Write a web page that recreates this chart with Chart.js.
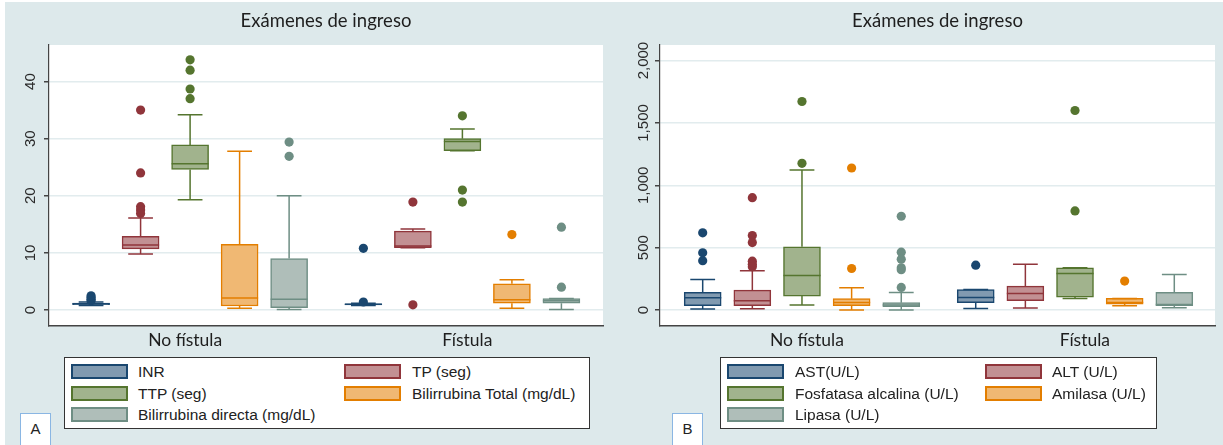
<!DOCTYPE html>
<html>
<head>
<meta charset="utf-8">
<script src="https://cdn.jsdelivr.net/npm/chart.js@4.4.0/dist/chart.umd.min.js"></script>
<style>
  body { margin: 0; width: 1223px; height: 445px; background: #fff; position: relative; overflow: hidden; font-family: "Liberation Sans", Arial, sans-serif; }
  #bg { position: absolute; left: 5px; top: 2px; right: 0; bottom: 0; background: #dde9eb; }
  .panel { position: absolute; top: 0; height: 445px; }
  .title { position: absolute; top: 8px; font: 18.5px Lato, sans-serif; color: #1e1e1e; text-align: center; line-height: 24px; }
  .legend { position: absolute; top: 357px; height: 72px; background: #fff; border: 1.5px solid #333; box-sizing: border-box; }
  .item { position: absolute; font-size: 15.5px; color: #222; line-height: 15px; white-space: nowrap; }
  .sw { position: absolute; width: 57px; height: 15px; box-sizing: border-box; border: 2px solid; }
  .tag { position: absolute; top: 413px; width: 31px; height: 33px; box-sizing: border-box; border: 1.5px solid #8ab6e3; background: #fff; font-size: 15px; text-align: center; line-height: 30px; color: #222; }
</style>
</head>
<body>
<div id="bg"></div>

<div class="panel" style="left:0;width:612px"><canvas id="chartA" width="612" height="445"></canvas></div>
<div class="panel" style="left:612px;width:611px"><canvas id="chartB" width="611" height="445"></canvas></div>

<div class="title" style="left:49px;width:554px">Exámenes de ingreso</div>
<div class="title" style="left:660px;width:555px">Exámenes de ingreso</div>

<div class="legend" id="legA" style="left:64px;width:526px"></div>
<div class="legend" id="legB" style="left:720px;width:437px"></div>

<div class="tag" style="left:20px">A</div>
<div class="tag" style="left:672px">B</div>

<script>
// groups on the x axis
const groups = ['No fístula', 'Fístula'];

// colours (stata s2color)
const lineColors = ['#1a476f', '#90353b', '#55752f', '#e37e00', '#6e8e84'];
const fillColors = ['#819ab0', '#c29093', '#a1b38d', '#f0b873', '#afbeb9'];

// ---- panel A : coagulation / bilirubin ----
const labelsA = ['INR', 'TP (seg)', 'TTP (seg)', 'Bilirrubina Total (mg/dL)', 'Bilirrubina directa (mg/dL)'];
// each row: [No fístula, Fístula]
const lowA  = [[0.8, 0.8], [9.8, 10.9], [19.3, 27.9], [0.3, 0.3], [0.1, 0.1]];
const q1A   = [[0.95, 0.9], [10.7, 10.9], [24.6, 27.9], [0.7, 1.2], [0.4, 1.2]];
const medA  = [[1.1, 1.0], [11.4, 11.2], [25.6, 29.5], [2.1, 1.8], [1.9, 1.6]];
const q3A   = [[1.2, 1.1], [12.9, 13.8], [28.9, 30.0], [11.5, 4.6], [9.0, 2.0]];
const highA = [[1.4, 1.2], [16.1, 14.2], [34.2, 31.7], [27.8, 5.3], [20.0, 2.0]];
const outA  = [
  [[1.6, 1.9, 2.2, 2.5], [1.4, 10.8]],
  [[35, 24, 18.1, 17.5, 16.9], [18.9, 0.9]],
  [[43.8, 42.0, 38.7, 37.0], [34.0, 21.0, 18.9]],
  [[], [13.2]],
  [[29.4, 26.9], [14.5, 4.0]]
];
const yTicksA = [0, 10, 20, 30, 40];

// ---- panel B : enzymes ----
const labelsB = ['AST(U/L)', 'ALT (U/L)', 'Fosfatasa alcalina (U/L)', 'Amilasa (U/L)', 'Lipasa (U/L)'];
const lowB  = [[8, 13], [11, 16], [40, 93], [0, 35], [0, 19]];
const q1B   = [[35, 59], [35, 75], [112, 104], [35, 48], [27, 35]];
const medB  = [[99, 101], [75, 133], [277, 293], [61, 61], [40, 45]];
const q3B   = [[141, 165], [160, 192], [507, 339], [91, 93], [59, 141]];
const highB = [[245, 165], [315, 368], [1123, 339], [179, 93], [141, 285]];
const outB  = [
  [[619, 459, 395], [360]],
  [[901, 597, 541, 392, 368, 347], []],
  [[1672, 1176], [1600, 795]],
  [[1139, 333], [232]],
  [[752, 464, 408, 339, 323, 181], []]
];
const yTicksB = [0, 500, 1000, 1500, 2000];

const HALF = 0.374;  // half box width in x units
const CAP = 0.25;    // half whisker cap width

function boxDatasets(labels, low, q1, med, q3, high, outl) {
  const ds = [];
  labels.forEach(function (lab, i) {
    const boxes = [], lines = [], pts = [];
    groups.forEach(function (g, k) {
      const x = i + 1 + k * 5.5;
      boxes.push({ x: x, y: [q1[i][k], q3[i][k]] });
      lines.push(
        { x: x, y: q3[i][k] }, { x: x, y: high[i][k] }, { x: x, y: null },
        { x: x, y: q1[i][k] }, { x: x, y: low[i][k] }, { x: x, y: null },
        { x: x - CAP, y: high[i][k] }, { x: x + CAP, y: high[i][k] }, { x: x, y: null },
        { x: x - CAP, y: low[i][k] }, { x: x + CAP, y: low[i][k] }, { x: x, y: null },
        { x: x - HALF, y: med[i][k] }, { x: x + HALF, y: med[i][k] }, { x: x, y: null }
      );
      outl[i][k].forEach(function (v) { pts.push({ x: x, y: v }); });
    });
    ds.push({
      type: 'bar', label: lab, data: boxes,
      backgroundColor: fillColors[i], borderColor: lineColors[i], borderWidth: 1.5,
      borderSkipped: false, barThickness: 37, grouped: false, order: 3
    });
    ds.push({
      type: 'line', data: lines, borderColor: lineColors[i], borderWidth: 1.5,
      pointRadius: 0, fill: false, spanGaps: false, order: 2
    });
    ds.push({
      type: 'scatter', data: pts, backgroundColor: lineColors[i], borderWidth: 0,
      pointRadius: 4.6, order: 1
    });
  });
  return ds;
}

const plotBg = {
  id: 'plotBg',
  beforeDraw: function (c) {
    const a = c.chartArea, ctx = c.ctx;
    ctx.save();
    ctx.fillStyle = '#fff';
    ctx.fillRect(a.left, a.top, a.right - a.left, a.bottom - a.top);
    ctx.restore();
  }
};

function makeChart(id, datasets, opt) {
  return new Chart(document.getElementById(id), {
    type: 'bar',
    data: { datasets: datasets },
    plugins: [plotBg],
    options: {
      responsive: false,
      animation: false,
      events: [],
      layout: { padding: opt.padding },
      plugins: { legend: { display: false }, tooltip: { enabled: false } },
      scales: {
        x: {
          type: 'linear', min: opt.xMin, max: opt.xMax, offset: false,
          afterBuildTicks: function (s) { s.ticks = opt.labelPos.map(function (v) { return { value: v }; }); },
          afterFit: function (s) { s.height = 30; },
          grid: { display: false, drawTicks: false },
          border: { display: true, color: '#444', width: 1.5 },
          ticks: {
            padding: 4, autoSkip: false, maxRotation: 0, color: '#1e1e1e',
            font: { family: 'Lato', size: 17.5 },
            callback: function (v, idx) { return groups[idx]; }
          }
        },
        y: {
          min: opt.yMin, max: opt.yMax,
          afterBuildTicks: function (s) { s.ticks = opt.yTicks.map(function (v) { return { value: v }; }); },
          afterFit: function (s) { s.width = 40; },
          grid: { color: '#e2ecee', lineWidth: 1.5, tickColor: '#444', tickLength: 5 },
          border: { display: true, color: '#444', width: 1.2 },
          ticks: {
            minRotation: 90, maxRotation: 90, crossAlign: 'center', padding: opt.tickPad,
            color: '#2a2a2a', font: { family: 'Liberation Sans', size: 15 },
            callback: function (v) { return v.toLocaleString('en-US'); }
          }
        }
      }
    }
  });
}

makeChart('chartA', boxDatasets(labelsA, lowA, q1A, medA, q3A, highA, outA), {
  padding: { left: 9, right: 9, top: 45, bottom: 89 },
  xMin: 0.15, xMax: 11.34, yMin: -2.8, yMax: 46.4, yTicks: yTicksA,
  labelPos: [2.9, 8.6], tickPad: 4.5
});

makeChart('chartB', boxDatasets(labelsB, lowB, q1B, medB, q3B, highB, outB), {
  padding: { left: 8, right: 8, top: 45, bottom: 89 },
  xMin: 0.14, xMax: 11.32, yMin: -128, yMax: 2125, yTicks: yTicksB,
  labelPos: [3.1, 8.7], tickPad: -7.5
});

// legends in two columns
function buildLegend(id, labels, cols) {
  const box = document.getElementById(id);
  labels.forEach(function (lab, i) {
    const c = i % 2, r = Math.floor(i / 2);
    const top = 6 + r * 21.5;
    const sw = document.createElement('div');
    sw.className = 'sw';
    sw.style.left = cols[c][0] + 'px';
    sw.style.top = top + 'px';
    sw.style.background = fillColors[i];
    sw.style.borderColor = lineColors[i];
    box.appendChild(sw);
    const t = document.createElement('div');
    t.className = 'item';
    t.style.left = cols[c][1] + 'px';
    t.style.top = top + 'px';
    t.textContent = lab;
    box.appendChild(t);
  });
}
buildLegend('legA', labelsA, [[6, 73], [279, 347]]);
buildLegend('legB', labelsB, [[6, 74], [264, 331]]);
</script>
</body>
</html>
